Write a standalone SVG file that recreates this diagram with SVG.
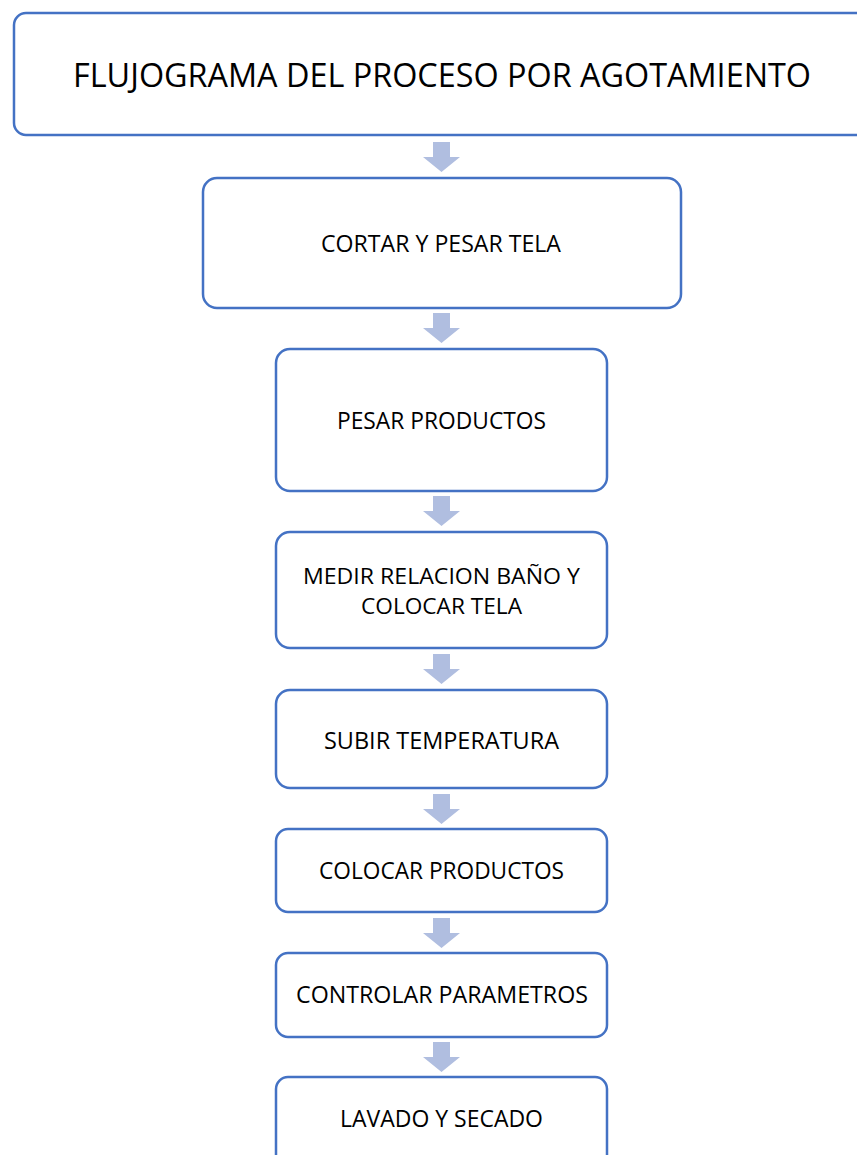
<svg xmlns="http://www.w3.org/2000/svg" width="857" height="1155" viewBox="0 0 857 1155">
<style>
.box{fill:#ffffff;stroke:#4472C4;stroke-width:2.5}
.arr{fill:#B0BEE0}
text{font-family:"Open Sans","Liberation Sans",sans-serif;fill:#000;text-anchor:middle}
.t{font-size:23px}
.t2{font-size:21px}
.h{font-size:32px}
</style>
<defs>
<path id="arrow" d="M -8.5 0 H 8.5 V 15 H 18.5 L 0 30 L -18.5 15 H -8.5 Z"/>
</defs>
<rect width="857" height="1155" fill="#ffffff"/>
<g id="connectors">
<use href="#arrow" class="arr" x="441.5" y="142"/>
<use href="#arrow" class="arr" x="441.5" y="313"/>
<use href="#arrow" class="arr" x="441.5" y="496"/>
<use href="#arrow" class="arr" x="441.5" y="654"/>
<use href="#arrow" class="arr" x="441.5" y="794"/>
<use href="#arrow" class="arr" x="441.5" y="918"/>
<use href="#arrow" class="arr" x="441.5" y="1042"/>
</g>
<g id="n0">
<rect class="box" x="14" y="13" width="870" height="122" rx="12"/>
<text class="h" x="442" y="87" textLength="738" lengthAdjust="spacingAndGlyphs">FLUJOGRAMA DEL PROCESO POR AGOTAMIENTO</text>
</g>
<g id="n1">
<rect class="box" x="203" y="178" width="478" height="130" rx="14"/>
<text class="t" x="441" y="252" textLength="240" lengthAdjust="spacingAndGlyphs">CORTAR Y PESAR TELA</text>
</g>
<g id="n2">
<rect class="box" x="276" y="349" width="331" height="142" rx="14"/>
<text class="t" x="441.5" y="429" textLength="209" lengthAdjust="spacingAndGlyphs">PESAR PRODUCTOS</text>
</g>
<g id="n3">
<rect class="box" x="276" y="532" width="331" height="116" rx="14"/>
<text class="t2" x="441.5" y="584" textLength="277" lengthAdjust="spacingAndGlyphs">MEDIR RELACION BAÑO Y</text>
<text class="t2" x="441.5" y="613.5" textLength="161" lengthAdjust="spacingAndGlyphs">COLOCAR TELA</text>
</g>
<g id="n4">
<rect class="box" x="276" y="690" width="331" height="98" rx="14"/>
<text class="t" x="441.5" y="749" textLength="235" lengthAdjust="spacingAndGlyphs">SUBIR TEMPERATURA</text>
</g>
<g id="n5">
<rect class="box" x="276" y="829" width="331" height="83" rx="12"/>
<text class="t" x="441.5" y="879" textLength="245" lengthAdjust="spacingAndGlyphs">COLOCAR PRODUCTOS</text>
</g>
<g id="n6">
<rect class="box" x="276" y="953" width="331" height="84" rx="12"/>
<text class="t" x="442" y="1003" textLength="292" lengthAdjust="spacingAndGlyphs">CONTROLAR PARAMETROS</text>
</g>
<g id="n7">
<rect class="box" x="276" y="1077" width="331" height="100" rx="12"/>
<text class="t" x="441.5" y="1127" textLength="203" lengthAdjust="spacingAndGlyphs">LAVADO Y SECADO</text>
</g>
</svg>
